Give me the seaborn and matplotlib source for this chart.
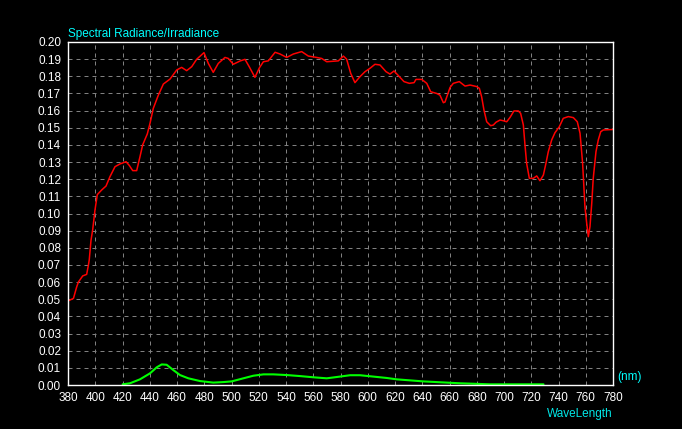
import numpy as np
import pandas as pd
import matplotlib
matplotlib.use("Agg")
import matplotlib.pyplot as plt
import seaborn as sns

# red curve: spectral radiance/irradiance
red_wl = [380, 384, 386.3, 387.6, 390.8, 393.7, 395, 395.6, 396.9, 398.1, 399.8, 401.5,
          404.7, 407.9, 410.8, 414.5, 418.2, 422.6, 425, 427.5, 430.4, 432.8, 434.8, 438.2,
          440.2, 442.6, 446.3, 450, 454.9, 459.8, 463.4, 467.1, 470.8, 474.4, 479.8, 483,
          486.6, 490.3, 495.2, 497.7, 501.3, 506.2, 509.9, 513, 517.2, 520.5, 523.4, 527,
          532, 535.6, 540.5, 545.4, 551.5, 556.4, 562.5, 566.2, 569.9, 578.4, 582.1, 584.5,
          587.5, 590.6, 594.3, 598, 601.7, 605.3, 609, 613.4, 616.3, 619.3, 623.2, 626.6,
          630.5, 634, 635.4, 639.6, 643.3, 646.2, 650.6, 653, 655.5, 656.7, 660.4, 662.8,
          667.2, 671.4, 675.1, 680, 681.9, 683.6, 685.3, 687.3, 690.2, 692.2, 694.1, 697.1,
          699.5, 702, 704.4, 707.3, 710.5, 712.2, 714.2, 715.4, 716.6, 718.6, 721.5, 724,
          726.4, 728.9, 730.8, 732.5, 735, 737.4, 740.6, 743.5, 747.2, 750.9, 753.8, 755.8,
          757.7, 759.4, 760.7, 761.9, 763.1, 764.4, 765.5, 767.5, 769.2, 771, 772.9, 780]
red_val = [0.049, 0.0505, 0.057, 0.060, 0.0636, 0.0645, 0.070, 0.073, 0.0845, 0.0904, 0.102, 0.111,
           0.1137, 0.116, 0.1215, 0.1273, 0.1289, 0.1302, 0.128, 0.125, 0.125, 0.133, 0.140, 0.1464,
           0.1526, 0.1613, 0.169, 0.1755, 0.1784, 0.1837, 0.1852, 0.1833, 0.1856, 0.1899, 0.1938, 0.1875,
           0.1823, 0.1875, 0.191, 0.1904, 0.187, 0.1889, 0.1899, 0.1856, 0.1794, 0.185, 0.1885, 0.189,
           0.194, 0.193, 0.191, 0.193, 0.1944, 0.1918, 0.191, 0.1904, 0.1885, 0.189, 0.1918, 0.190,
           0.1817, 0.1763, 0.1798, 0.1827, 0.1847, 0.187, 0.1866, 0.1827, 0.1813, 0.1831, 0.1798, 0.1769,
           0.1759, 0.1763, 0.1782, 0.1782, 0.1759, 0.171, 0.170, 0.169, 0.1646, 0.165, 0.1735, 0.1759,
           0.1769, 0.1743, 0.1749, 0.174, 0.173, 0.168, 0.1603, 0.1535, 0.1512, 0.1516, 0.1532, 0.1545,
           0.1541, 0.1535, 0.156, 0.1598, 0.1598, 0.1584, 0.1516, 0.140, 0.1293, 0.1205, 0.1205, 0.1219,
           0.1191, 0.1224, 0.1293, 0.136, 0.1429, 0.1471, 0.1506, 0.1555, 0.1565, 0.1559, 0.1535, 0.1468,
           0.1293, 0.104, 0.0943, 0.0865, 0.0923, 0.106, 0.1205, 0.136, 0.1429, 0.1477, 0.1487, 0.149]

# green curve
green_wl = [420.1, 425.5, 432.8, 440.2, 445.1, 448.8, 452.4, 457.3, 462.2, 468.3, 476.9, 486.6,
            494, 500.1, 508.7, 516, 523.4, 530.7, 540.5, 550.3, 560, 569.9, 579.6, 587, 594.3,
            600.4, 606.6, 613.9, 621.2, 631, 640.8, 653, 667.7, 689.7, 729]
green_val = [0.0004, 0.001, 0.0033, 0.0068, 0.0103, 0.012, 0.0118, 0.0087, 0.0058, 0.0039, 0.0023, 0.0014,
             0.0017, 0.0021, 0.0039, 0.0054, 0.0062, 0.0062, 0.0058, 0.0052, 0.0045, 0.0039, 0.0049, 0.0057, 0.0057,
             0.0052, 0.0047, 0.0041, 0.0033, 0.0027, 0.0021, 0.0016, 0.001, 0.0004, 0.0004]

x_ticks = list(range(380, 781, 20))
y_ticks = [round(i * 0.01, 2) for i in range(21)]

sns.set_theme(style="dark")
plt.rcParams['font.family'] = ['Liberation Sans', 'DejaVu Sans']

fig = plt.figure(figsize=(6.82, 4.29), dpi=100, facecolor="black")
ax = fig.add_axes([68 / 682, 44 / 429, 545 / 682, 343 / 429])
ax.set_facecolor("black")

sns.lineplot(x=red_wl, y=red_val, color="#ff0000", linewidth=1.1, ax=ax, estimator=None, sort=False)
sns.lineplot(x=green_wl, y=green_val, color="#00ff00", linewidth=1.5, ax=ax, estimator=None, sort=False)

ax.set_xlim(380, 780)
ax.set_ylim(0, 0.20)
ax.set_xticks(x_ticks)
ax.set_yticks(y_ticks)
ax.set_yticklabels([f"{v:.2f}" for v in y_ticks])
ax.tick_params(colors="white", labelsize=8.5, length=0, pad=5)
ax.grid(True, color="#808080", linestyle=(0, (4, 4)), linewidth=0.72)
for s in ax.spines.values():
    s.set_color("white")
    s.set_linewidth(1)
ax.set_xlabel("")
ax.set_ylabel("")

ax.text(0, 1.005, "Spectral Radiance/Irradiance", transform=ax.transAxes, color="#00ffff",
        fontsize=8.5, ha="left", va="bottom")
ax.text(1.008, 0.005, "(nm)", transform=ax.transAxes, color="#00ffff", fontsize=8.5,
        ha="left", va="bottom")
ax.text(1.0, -0.085, "WaveLength", transform=ax.transAxes, color="#00e8e8", fontsize=8.5,
        ha="right", va="center")

fig.savefig("out.png", dpi=100, facecolor="black")
